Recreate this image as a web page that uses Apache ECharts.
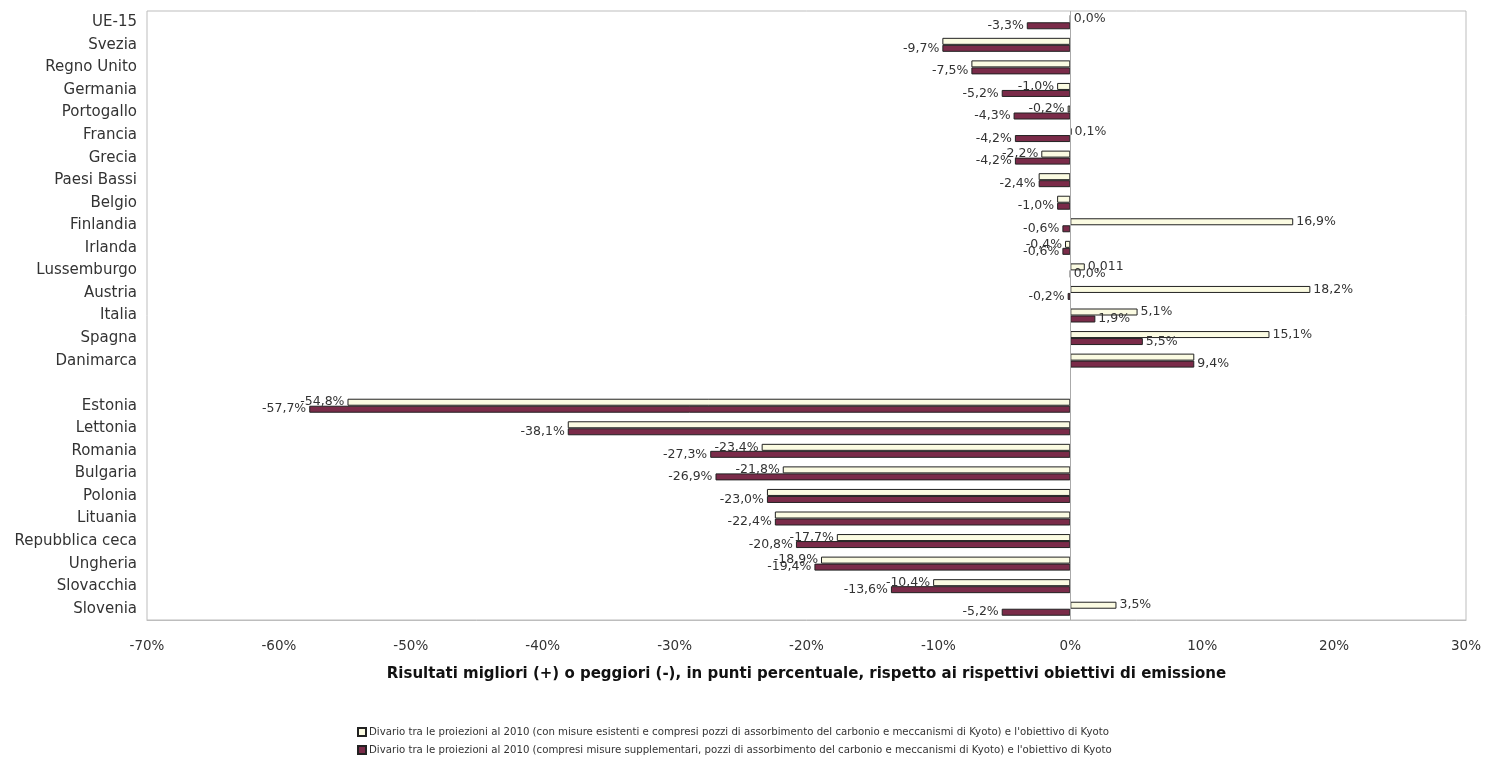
<!DOCTYPE html>
<html>
<head>
<meta charset="utf-8">
<script src="https://cdn.jsdelivr.net/npm/echarts@6/dist/echarts.min.js"></script>
<style>
html,body{margin:0;padding:0;background:#fff;}
#c{width:1501px;height:765px;}
</style>
</head>
<body>
<div id="c"></div>
<script>
const categories = ['UE-15','Svezia','Regno Unito','Germania','Portogallo','Francia','Grecia','Paesi Bassi','Belgio','Finlandia','Irlanda','Lussemburgo','Austria','Italia','Spagna','Danimarca','','Estonia','Lettonia','Romania','Bulgaria','Polonia','Lituania','Repubblica ceca','Ungheria','Slovacchia','Slovenia'];
const existingMeasures = [0.0,-9.7,-7.5,-1.0,-0.2,0.1,-2.2,-2.4,-1.0,16.9,-0.4,1.1,18.2,5.1,15.1,9.4,null,-54.8,-38.1,-23.4,-21.8,-23.0,-22.4,-17.7,-18.9,-10.4,3.5];
const additionalMeasures = [-3.3,-9.7,-7.5,-5.2,-4.3,-4.2,-4.2,-2.4,-1.0,-0.6,-0.6,0.0,-0.2,1.9,5.5,9.4,null,-57.7,-38.1,-27.3,-26.9,-23.0,-22.4,-20.8,-19.4,-13.6,-5.2];
const existingLabelOverrides = {11: '0,011'};
const xTicks = {min: -70, max: 30, interval: 10};
const seriesNames = [
  'Divario tra le proiezioni al 2010 (con misure esistenti e compresi pozzi di assorbimento del carbonio e meccanismi di Kyoto) e l\'obiettivo di Kyoto',
  'Divario tra le proiezioni al 2010 (compresi misure supplementari, pozzi di assorbimento del carbonio e meccanismi di Kyoto) e l\'obiettivo di Kyoto'
];
const axisTitle = 'Risultati migliori (+) o peggiori (-), in punti percentuale, rispetto ai rispettivi obiettivi di emissione';

const FONT = 'DejaVu Sans, Liberation Sans, Arial, sans-serif';
function fmt(v){ return v.toFixed(1).replace('.', ',') + '%'; }
// hide a label when the other series has the identical value (labels coincide in the original)
function buildData(vals, overrides, twin){
  return vals.map((v,i)=>{
    if (v === null) return null;
    const txt = (overrides && overrides[i]) ? overrides[i] : fmt(v);
    const hide = twin && twin[i] === v;
    return {value: v, label: {show: !hide, position: v < 0 ? 'left' : 'right', formatter: txt}};
  });
}
const labelStyle = {show: true, fontSize: 12.5, color: '#333', fontFamily: FONT, distance: 3};

const chart = echarts.init(document.getElementById('c'));
chart.setOption({
  animation: false,
  textStyle: {fontFamily: FONT},
  grid: {left: 147, right: 35, top: 11, bottom: 145, show: true, borderColor: '#bdbdbd', borderWidth: 1},
  xAxis: {
    type: 'value', min: xTicks.min, max: xTicks.max, interval: xTicks.interval,
    axisLabel: {formatter: '{value}%', fontSize: 13.5, color: '#333', margin: 19, fontFamily: FONT},
    axisTick: {inside: true, length: 5, lineStyle: {color: '#aaa'}},
    axisLine: {show: true, onZero: false, lineStyle: {color: '#bdbdbd'}},
    splitLine: {show: false},
    name: axisTitle, nameLocation: 'middle', nameGap: 47,
    nameTextStyle: {fontSize: 15, fontWeight: 'bold', color: '#111', fontFamily: FONT}
  },
  yAxis: {
    type: 'category', data: categories, inverse: true,
    axisLine: {show: false, onZero: false}, axisTick: {show: false},
    axisLabel: {fontSize: 15, color: '#333', margin: 10, fontFamily: FONT}
  },
  legend: {
    orient: 'vertical', left: 352, top: 722, itemWidth: 8, itemHeight: 8, itemGap: 8,
    icon: 'rect',
    textStyle: {fontSize: 10.2, color: '#333', padding: [0,0,0,-2], fontFamily: FONT},
    data: seriesNames
  },
  series: [
    {
      name: seriesNames[0], type: 'bar', barWidth: 7, barGap: '0%',
      itemStyle: {color: '#fbfbe2', borderColor: '#222', borderWidth: 1},
      label: labelStyle,
      data: buildData(existingMeasures, existingLabelOverrides, additionalMeasures),
      markLine: {silent: true, symbol: 'none', label: {show: false},
        lineStyle: {color: '#aaa', type: 'solid', width: 1},
        data: [{xAxis: 0}]}
    },
    {
      name: seriesNames[1], type: 'bar', barWidth: 7, barGap: '0%',
      itemStyle: {color: '#7a2b49', borderColor: '#222', borderWidth: 1},
      label: labelStyle,
      data: buildData(additionalMeasures)
    }
  ]
});
</script>
</body>
</html>
